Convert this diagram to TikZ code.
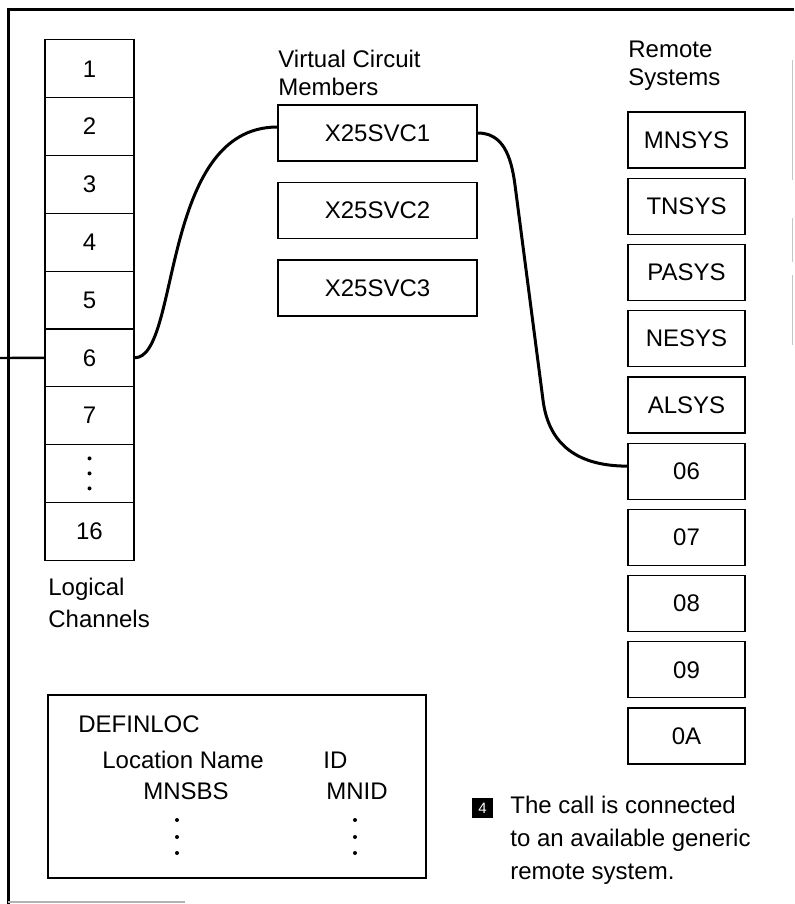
\documentclass[tikz,border=0pt]{standalone}
\usepackage{fontspec}
\setmainfont{Liberation Sans}
\usepackage{tikz}
\usetikzlibrary{calc, positioning}

\tikzset{
  cell/.style={draw, line width=0.6pt, minimum width=44.5pt, minimum height=28.9pt, inner sep=0pt},
  vcbox/.style={draw, line width=0.6pt, minimum width=99.5pt, minimum height=28pt, inner sep=0pt},
  sysbox/.style={draw, line width=0.6pt, minimum width=58.5pt, minimum height=28pt, inner sep=0pt},
  heading/.style={anchor=north west, align=left, inner sep=0pt},
  plain/.style={anchor=base west, inner sep=0pt},
  link/.style={line width=1.5pt, line cap=round},
  frame/.style={line width=1.5pt}
}

\begin{document}
\begin{tikzpicture}[x=0.5pt, y=-0.5pt, font=\fontsize{12}{14}\selectfont]
                        \useasboundingbox (0,0) rectangle (794,904);
                        % frame
                        \draw[frame] (8,904) -- (8,10) -- (794,10);
                        \draw[gray!60, line width=0.6pt] (8,902) -- (185,902);
                        \draw[gray!45, line width=0.5pt] (792,60) -- (792,180) (792,218) -- (792,262) (792,275) -- (792,345);
                        % logical channels
                        \foreach \lbl [count=\i] in {1,2,3,4,5,6,7,{},16}
                            \node[cell] (c\i) at (89.5, {11+57.8*\i}) {\lbl};
                        \foreach \d in {-15,0,15}
                            \fill ($(c8.center)+(0,\d)$) circle (1pt);
                        \node[heading, font=\fontsize{12}{16}\selectfont] (lchan) at (48,578) {Logical\\Channels};
                        % virtual circuit members
                        \node[heading] (vchead) at (278,50) {Virtual Circuit\\Members};
                        \foreach \n [count=\i] in {1,2,3}
                            \node[vcbox] (vc\n) at (377.5, {55.5+77.5*\i}) {X25SVC\n};
                        % remote systems
                        \node[heading] (rhead) at (628,41) {Remote\\Systems};
                        \foreach \lbl [count=\i] in {MNSYS,TNSYS,PASYS,NESYS,ALSYS,06,07,08,09,0A}
                            \node[sysbox] (r\i) at (686.5, {73.8+66.22*\i}) {\lbl};
                        % connections
                        \coordinate (ext) at (0,358);
                        \draw[line width=1.2pt] (ext) -- (c6.west);
                        \draw[link] (c6.east) .. controls +(46,0) and +(-118,0) .. ($(vc1.west)+(0,-6)$);
                        \draw[link] (vc1.east) .. controls +(25,0) and +(-4,-30) .. (515,185)
                            -- (543,400) .. controls +(5,40) and +(-55,0) .. ($(r6.west)+(0,-5)$);
                        % DEFINLOC table
                        \node[draw, line width=0.6pt, minimum width=189pt, minimum height=91.5pt, inner sep=0pt] (defin) at (237,786.5) {};
                        \node[plain] (dname) at (78,732) {DEFINLOC};
                        \node[plain] (locname) at (102,768) {Location Name};
                        \node[plain] (idhead) at (323,768) {ID};
                        \node[plain] (mnsbs) at (143,799) {MNSBS};
                        \node[plain] (mnid) at (326,799) {MNID};
                        \foreach \y in {820,837,853} {
                            \fill (177,\y) circle (1pt);
                            \fill (355,\y) circle (1pt);
                        }
                        % note
                        \node[fill=black, text=white, minimum width=10.5pt, minimum height=10pt, inner sep=0pt, font=\fontsize{7.5}{8}\selectfont] (num) at (482.5,808) {4};
                        \node[heading, font=\fontsize{12}{16.5}\selectfont] (note) at (510,796) {The call is connected\\to an available generic\\remote system.};
                    \end{tikzpicture}
\end{document}
